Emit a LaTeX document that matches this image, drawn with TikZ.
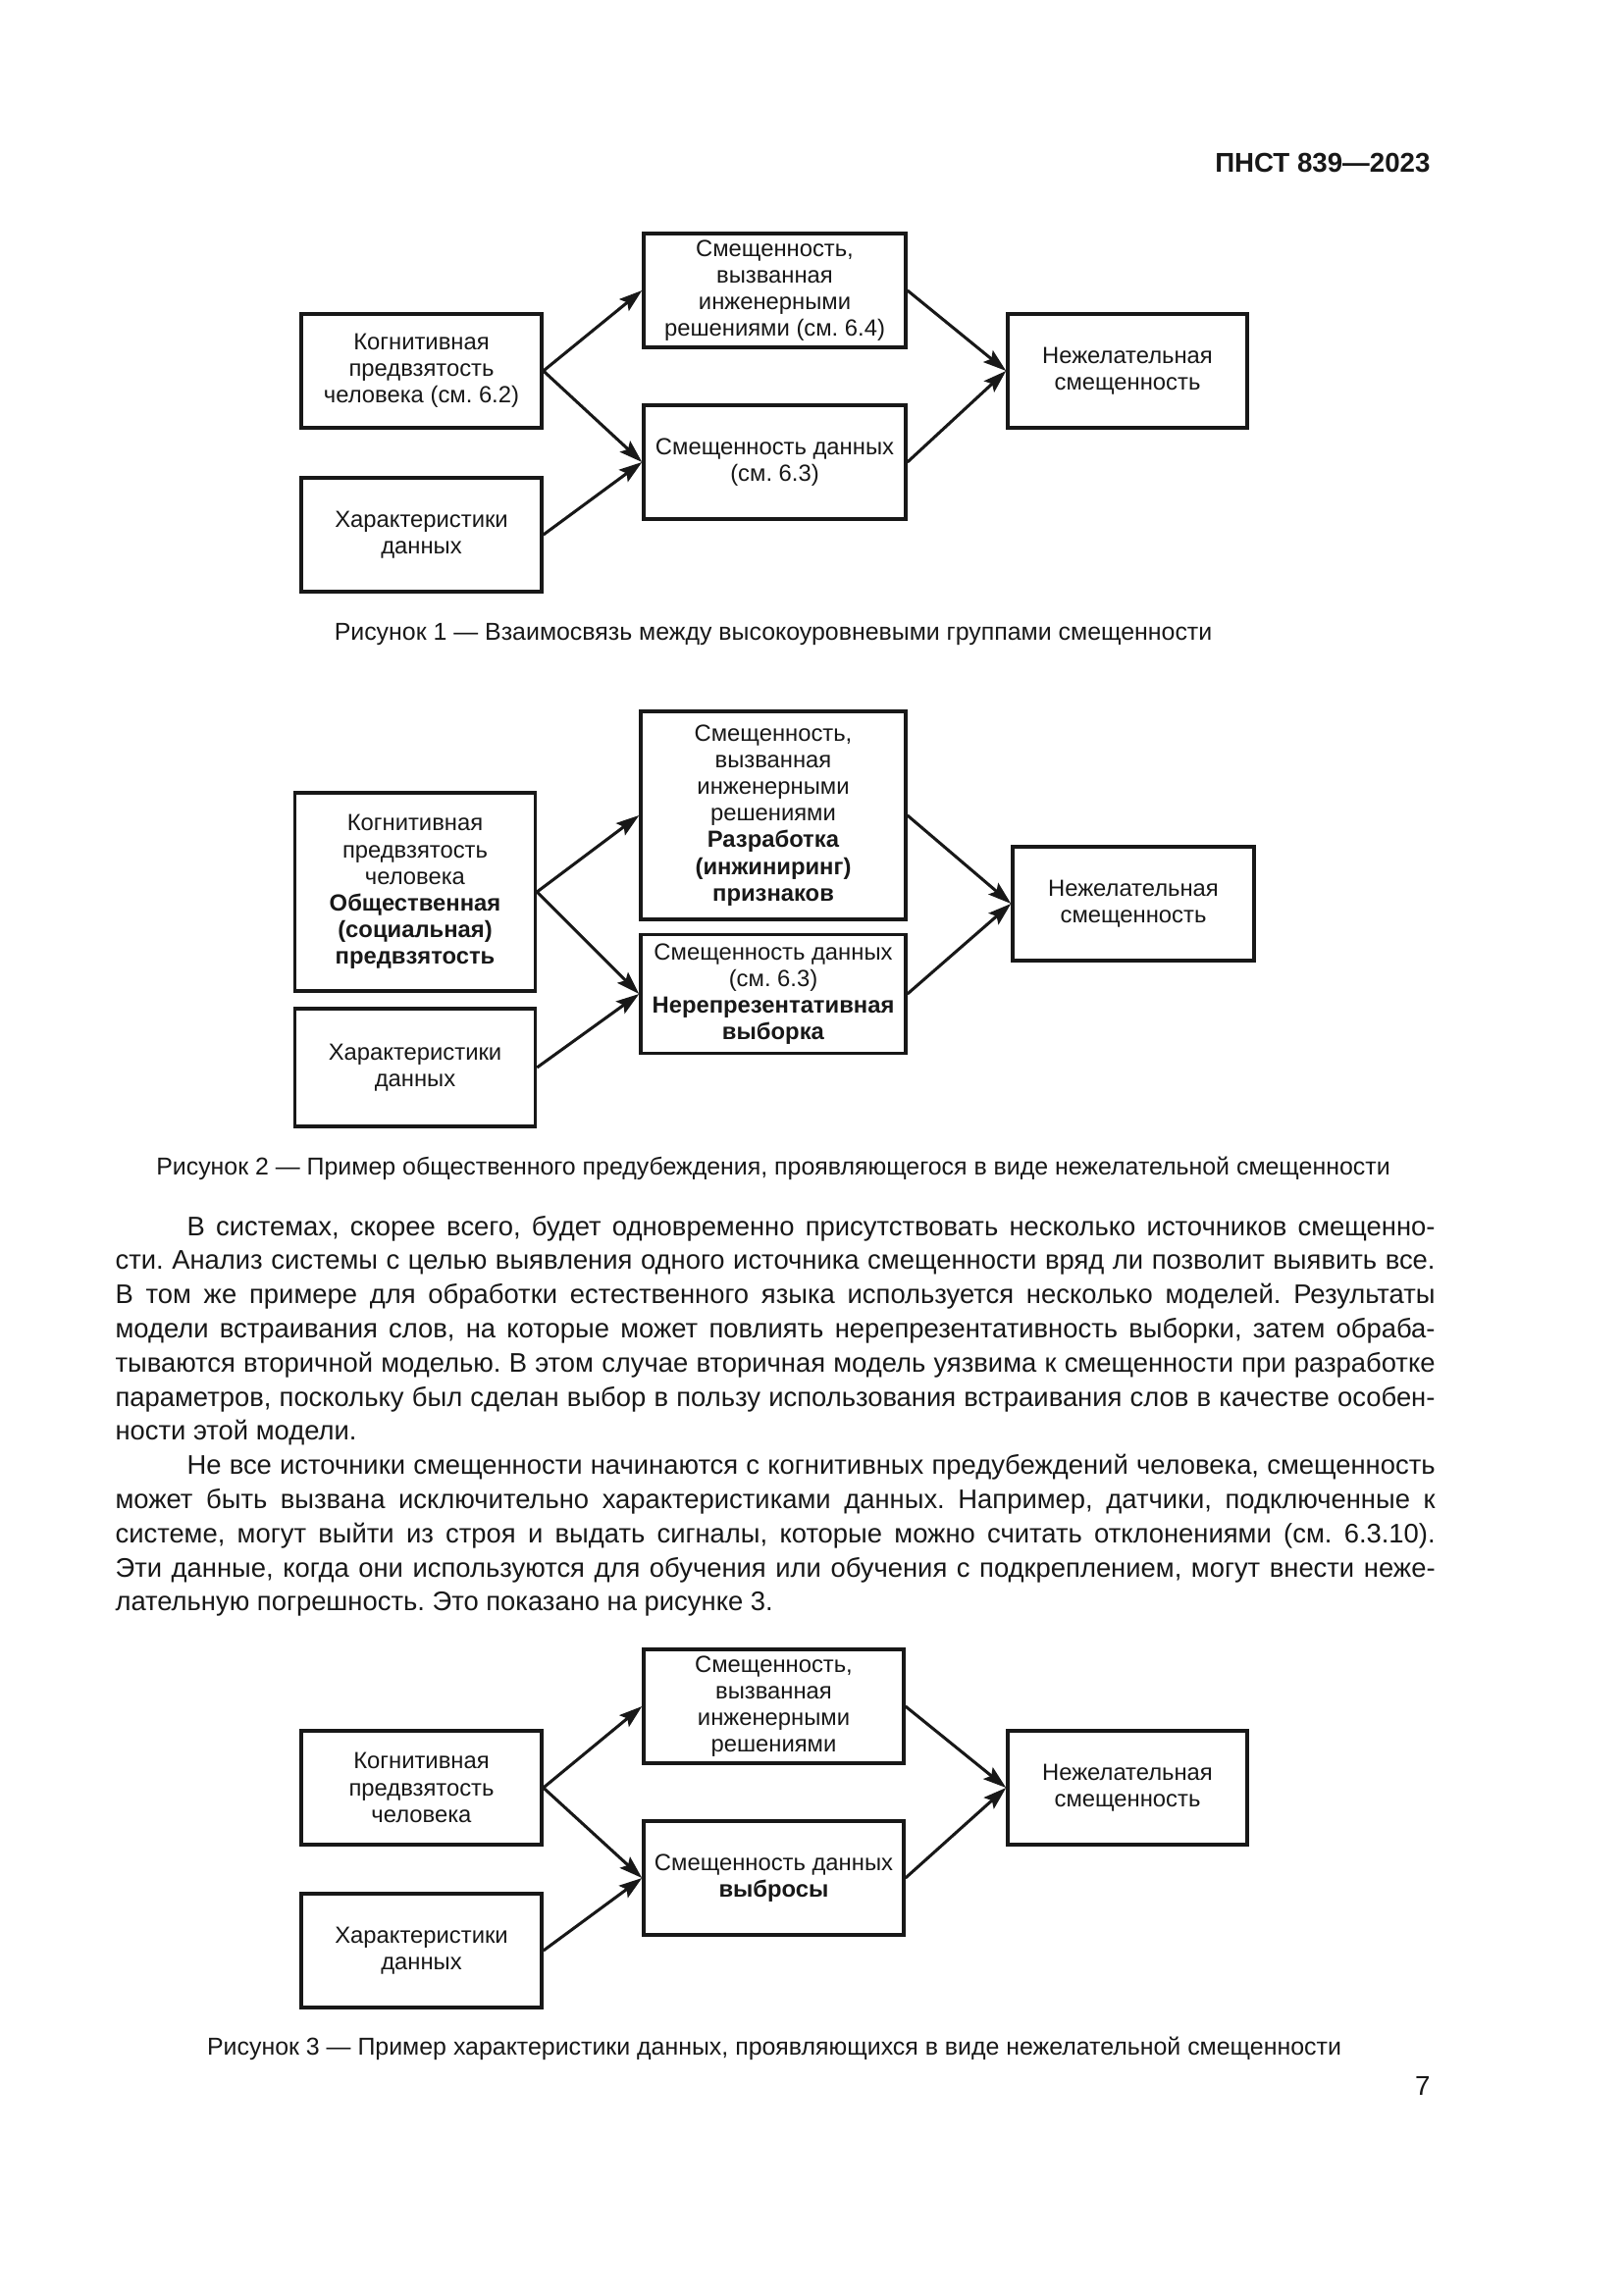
\documentclass[tikz,border=0pt]{standalone}
\usepackage{fontspec}
\setmainfont{Liberation Sans}
\usetikzlibrary{arrows.meta}
\definecolor{ink}{RGB}{24,24,24}
\frenchspacing
\tikzset{
  box/.style={draw=ink, line width=1.25pt, inner sep=0pt, align=center,
    font=\fontsize{8.6}{9.8}\selectfont, text=ink},
  sz/.style 2 args={minimum width={#1*0.127mm}, minimum height={#2*0.127mm}},
  arr/.style={draw=ink, line width=1.1pt, -{Stealth[length=8.5pt,width=5.5pt,inset=1.5pt]}},
  figcap/.style={font=\fontsize{9}{11}\selectfont, text=ink, inner sep=0pt, anchor=base},
  bodyline/.style={font=\fontsize{9.9}{12}\selectfont, text=ink, inner sep=0pt, anchor=base west},
}
\newcommand{\fullline}[1]{\makebox[170.815mm][s]{#1}}
\newcommand{\indline}[1]{\makebox[161.544mm][s]{#1}}
\begin{document}
\begin{tikzpicture}[x=0.127mm, y=-0.127mm]
\useasboundingbox (0,0) rectangle (1654,2339);
\fill[white] (0,0) rectangle (1654,2339);

% header
\node[font=\bfseries\fontsize{10}{12}\selectfont, text=ink, inner sep=0pt, anchor=base east] (hdr) at (1458,176) {ПНСТ 839—2023};

% ---------- Figure 1 ----------
\node[box, sz={245}{116}] (k1) at (429.5,378) {Когнитивная\\предвзятость\\человека (см. 6.2)};
\node[box, sz={245}{116}] (x1) at (429.5,545) {Характеристики\\данных};
\node[box, sz={267}{116}] (t1) at (789.5,296) {Смещенность,\\вызванная\\инженерными\\решениями (см. 6.4)};
\node[box, sz={267}{116}] (d1) at (789.5,471) {Смещенность данных\\(см. 6.3)};
\node[box, sz={244}{116}] (r1) at (1149,378) {Нежелательная\\смещенность};
\draw[arr] (k1.east) -- (t1.west);
\draw[arr] (k1.east) -- (d1.west);
\draw[arr] (x1.east) -- (d1.west);
\draw[arr] (t1.east) -- (r1.west);
\draw[arr] (d1.east) -- (r1.west);
\node[figcap] (c1) at (788,653) {Рисунок 1 — Взаимосвязь между высокоуровневыми группами смещенности};

% ---------- Figure 2 ----------
\node[box, sz={245}{202}] (k2) at (423,909) {Когнитивная\\предвзятость\\человека\\\textbf{Общественная}\\\textbf{(социальная)}\\\textbf{предвзятость}};
\node[box, sz={245}{120}] (x2) at (423,1088) {Характеристики\\данных};
\node[box, sz={270}{212}] (t2) at (788,831) {Смещенность,\\вызванная\\инженерными\\решениями\\\textbf{Разработка}\\\textbf{(инжиниринг)}\\\textbf{признаков}};
\node[box, sz={270}{121}] (d2) at (788,1013) {Смещенность данных\\(см. 6.3)\\\textbf{Нерепрезентативная}\\\textbf{выборка}};
\node[box, sz={246}{116}] (r2) at (1155,921) {Нежелательная\\смещенность};
\draw[arr] (k2.east) -- (t2.west);
\draw[arr] (k2.east) -- (d2.west);
\draw[arr] (x2.east) -- (d2.west);
\draw[arr] (t2.east) -- (r2.west);
\draw[arr] (d2.east) -- (r2.west);
\node[figcap] (c2) at (788,1197) {Рисунок 2 — Пример общественного предубеждения, проявляющегося в виде нежелательной смещенности};

% ---------- Body text ----------
\node[bodyline] (l1) at (190,1259) {\indline{В системах, скорее всего, будет одновременно присутствовать несколько источников смещенно-}};
\node[bodyline] (l2) at (117,1293.8) {\fullline{сти. Анализ системы с целью выявления одного источника смещенности вряд ли позволит выявить все.}};
\node[bodyline] (l3) at (117,1328.6) {\fullline{В том же примере для обработки естественного языка используется несколько моделей. Результаты}};
\node[bodyline] (l4) at (117,1363.4) {\fullline{модели встраивания слов, на которые может повлиять нерепрезентативность выборки, затем обраба-}};
\node[bodyline] (l5) at (117,1398.2) {\fullline{тываются вторичной моделью. В этом случае вторичная модель уязвима к смещенности при разработке}};
\node[bodyline] (l6) at (117,1433) {\fullline{параметров, поскольку был сделан выбор в пользу использования встраивания слов в качестве особен-}};
\node[bodyline] (l7) at (117,1467.8) {ности этой модели.};
\node[bodyline] (l8) at (190,1502.6) {\indline{Не все источники смещенности начинаются с когнитивных предубеждений человека, смещенность}};
\node[bodyline] (l9) at (117,1537.4) {\fullline{может быть вызвана исключительно характеристиками данных. Например, датчики, подключенные к}};
\node[bodyline] (l10) at (117,1572.2) {\fullline{системе, могут выйти из строя и выдать сигналы, которые можно считать отклонениями (см. 6.3.10).}};
\node[bodyline] (l11) at (117,1607) {\fullline{Эти данные, когда они используются для обучения или обучения с подкреплением, могут внести неже-}};
\node[bodyline] (l12) at (117,1641.8) {лательную погрешность. Это показано на рисунке 3.};

% ---------- Figure 3 ----------
\node[box, sz={245}{116}] (k3) at (429.5,1822) {Когнитивная\\предвзятость\\человека};
\node[box, sz={245}{116}] (x3) at (429.5,1988) {Характеристики\\данных};
\node[box, sz={265}{116}] (t3) at (788.5,1739) {Смещенность,\\вызванная\\инженерными\\решениями};
\node[box, sz={265}{116}] (d3) at (788.5,1914) {Смещенность данных\\\textbf{выбросы}};
\node[box, sz={244}{116}] (r3) at (1149,1822) {Нежелательная\\смещенность};
\draw[arr] (k3.east) -- (t3.west);
\draw[arr] (k3.east) -- (d3.west);
\draw[arr] (x3.east) -- (d3.west);
\draw[arr] (t3.east) -- (r3.west);
\draw[arr] (d3.east) -- (r3.west);
\node[figcap] (c3) at (789,2094) {Рисунок 3 — Пример характеристики данных, проявляющихся в виде нежелательной смещенности};

% page number
\node[font=\fontsize{10}{12}\selectfont, text=ink, inner sep=0pt, anchor=base east] (pg) at (1458,2135) {7};
\end{tikzpicture}
\end{document}
